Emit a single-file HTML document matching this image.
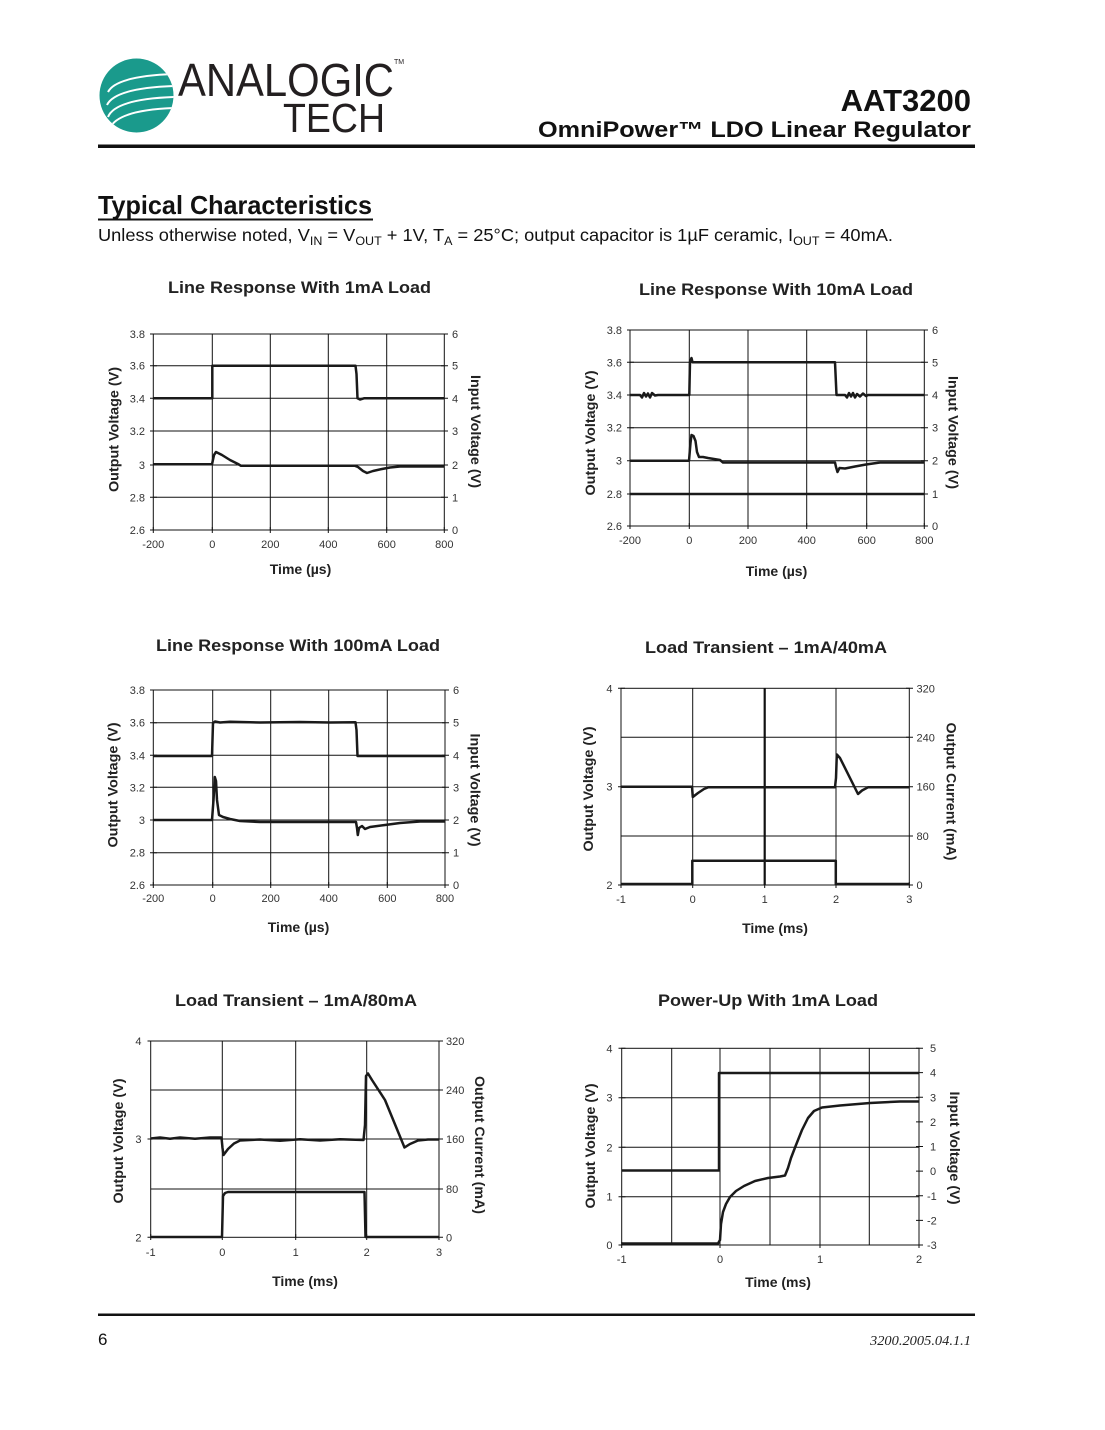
<!DOCTYPE html>
<html><head><meta charset="utf-8"><style>
html,body{margin:0;padding:0;background:#fff;}
svg{display:block;}
.t{font-family:"Liberation Sans",sans-serif;font-size:11px;fill:#333;}
.ax{font-family:"Liberation Sans",sans-serif;font-size:14px;font-weight:bold;fill:#222;}
.ti{font-family:"Liberation Sans",sans-serif;font-size:17px;font-weight:bold;fill:#222;}
.g{stroke:#111;stroke-width:1;fill:none;}
.s{stroke:#1a1a1a;stroke-width:2.5;fill:none;stroke-linejoin:round;}
</style></head><body>
<svg width="1105" height="1430" viewBox="0 0 1105 1430" xmlns="http://www.w3.org/2000/svg">
<rect width="1105" height="1430" fill="#fff"/>
<!-- Logo -->
<defs><clipPath id="lc"><circle cx="136.5" cy="95.5" r="37"/></clipPath></defs>
<circle cx="136.5" cy="95.5" r="37" fill="#1a9a8c"/>
<g clip-path="url(#lc)" stroke="#fff" stroke-width="2" fill="none">
<path d="M108,92 Q116,76 175,74"/>
<path d="M107,105 Q115,88 175,86"/>
<path d="M108,117 Q115,99 175,97"/>
<path d="M110,128 Q118,110 175,108"/>
</g>
<text x="178" y="96" font-family="Liberation Sans,sans-serif" font-size="46" fill="#231f20" textLength="216" lengthAdjust="spacingAndGlyphs">ANALOGIC</text>
<text x="394" y="64" font-family="Liberation Sans,sans-serif" font-size="7" fill="#231f20">TM</text>
<text x="283" y="132" font-family="Liberation Sans,sans-serif" font-size="41" fill="#231f20" textLength="102" lengthAdjust="spacingAndGlyphs">TECH</text>
<!-- Header -->
<text x="971" y="111" text-anchor="end" font-family="Liberation Sans,sans-serif" font-size="31" font-weight="bold" fill="#111">AAT3200</text>
<text x="971" y="137" text-anchor="end" font-family="Liberation Sans,sans-serif" font-size="22" font-weight="bold" fill="#111" textLength="433" lengthAdjust="spacingAndGlyphs">OmniPower™ LDO Linear Regulator</text>
<rect x="98" y="144.5" width="877" height="3.5" fill="#111"/>
<!-- Section title -->
<text x="98" y="214" font-family="Liberation Sans,sans-serif" font-size="26" font-weight="bold" fill="#111" textLength="274" lengthAdjust="spacingAndGlyphs">Typical Characteristics</text>
<rect x="98" y="218.5" width="275" height="2" fill="#111"/>
<text x="98" y="241" font-family="Liberation Sans,sans-serif" font-size="17.5" fill="#111" textLength="795" lengthAdjust="spacingAndGlyphs">Unless otherwise noted, V<tspan font-size="12" dy="4">IN</tspan><tspan dy="-4"> = V</tspan><tspan font-size="12" dy="4">OUT</tspan><tspan dy="-4"> + 1V, T</tspan><tspan font-size="12" dy="4">A</tspan><tspan dy="-4"> = 25°C; output capacitor is 1µF ceramic, I</tspan><tspan font-size="12" dy="4">OUT</tspan><tspan dy="-4"> = 40mA.</tspan></text>

<!-- ================= Chart 1 ================= -->
<text class="ti" x="299.5" y="293" text-anchor="middle" textLength="263" lengthAdjust="spacingAndGlyphs">Line Response With 1mA Load</text>
<g class="g">
<rect x="153.3" y="334" width="291" height="196"/>
<path d="M212.3,334V530M270.3,334V530M328.3,334V530M386.7,334V530"/>
<path d="M153.3,365.7H444.3M153.3,398.3H444.3M153.3,431H444.3M153.3,465H444.3M153.3,497.3H444.3"/>
<path d="M150,334h7M150,365.7h7M150,398.3h7M150,431h7M150,465h7M150,497.3h7M150,530h7"/>
<path d="M441,334h7M441,365.7h7M441,398.3h7M441,431h7M441,465h7M441,497.3h7M441,530h7"/>
<path d="M153.3,527v6M212.3,527v6M270.3,527v6M328.3,527v6M386.7,527v6M444.3,527v6"/>
</g>
<g class="t" text-anchor="end">
<text x="145" y="338">3.8</text><text x="145" y="369.7">3.6</text><text x="145" y="402.3">3.4</text><text x="145" y="435">3.2</text><text x="145" y="469">3</text><text x="145" y="501.3">2.8</text><text x="145" y="534">2.6</text>
</g>
<g class="t">
<text x="452" y="338">6</text><text x="452" y="369.7">5</text><text x="452" y="402.3">4</text><text x="452" y="435">3</text><text x="452" y="469">2</text><text x="452" y="501.3">1</text><text x="452" y="534">0</text>
</g>
<g class="t" text-anchor="middle">
<text x="153.3" y="548">-200</text><text x="212.3" y="548">0</text><text x="270.3" y="548">200</text><text x="328.3" y="548">400</text><text x="386.7" y="548">600</text><text x="444.3" y="548">800</text>
</g>
<text class="ax" x="300.5" y="574" text-anchor="middle">Time (µs)</text>
<text class="ax" transform="translate(118.5,429.5) rotate(-90)" text-anchor="middle" textLength="125" lengthAdjust="spacingAndGlyphs">Output Voltage (V)</text>
<text class="ax" transform="translate(471,431.5) rotate(90)" text-anchor="middle" textLength="113" lengthAdjust="spacingAndGlyphs">Input Voltage (V)</text>
<path class="s" d="M153.3,398.3H212.3V365.7H355.5L356.5,374L357.5,398.3L360,399.5L364,398.3H444.3"/>
<path class="s" d="M153.3,464.3H212L214,455L216,452L222,455L230,460L238,464L241,465.8H355L358,467L363,471L367,473L373,471L382,469L390,467.5L400,466.5H444.3"/>

<!-- ================= Chart 2 ================= -->
<text class="ti" x="776" y="295" text-anchor="middle" textLength="274" lengthAdjust="spacingAndGlyphs">Line Response With 10mA Load</text>
<g class="g">
<rect x="630" y="330" width="294.3" height="196"/>
<path d="M689.3,330V526M748,330V526M806.7,330V526M866.7,330V526"/>
<path d="M630,362.3H924.3M630,395H924.3M630,427.7H924.3M630,460.7H924.3"/>
<path d="M627,330h7M627,362.3h7M627,395h7M627,427.7h7M627,460.7h7M627,494h7M627,526h7"/>
<path d="M921,330h7M921,362.3h7M921,395h7M921,427.7h7M921,460.7h7M921,494h7M921,526h7"/>
<path d="M630,523v6M689.3,523v6M748,523v6M806.7,523v6M866.7,523v6M924.3,523v6"/>
</g>
<g class="t" text-anchor="end">
<text x="622" y="334">3.8</text><text x="622" y="366.3">3.6</text><text x="622" y="399">3.4</text><text x="622" y="431.7">3.2</text><text x="622" y="464.7">3</text><text x="622" y="498">2.8</text><text x="622" y="530">2.6</text>
</g>
<g class="t">
<text x="932" y="334">6</text><text x="932" y="366.3">5</text><text x="932" y="399">4</text><text x="932" y="431.7">3</text><text x="932" y="464.7">2</text><text x="932" y="498">1</text><text x="932" y="530">0</text>
</g>
<g class="t" text-anchor="middle">
<text x="630" y="544">-200</text><text x="689.3" y="544">0</text><text x="748" y="544">200</text><text x="806.7" y="544">400</text><text x="866.7" y="544">600</text><text x="924.3" y="544">800</text>
</g>
<text class="ax" x="776.5" y="576" text-anchor="middle">Time (µs)</text>
<text class="ax" transform="translate(595,433) rotate(-90)" text-anchor="middle" textLength="125" lengthAdjust="spacingAndGlyphs">Output Voltage (V)</text>
<text class="ax" transform="translate(948.5,432.5) rotate(90)" text-anchor="middle" textLength="113" lengthAdjust="spacingAndGlyphs">Input Voltage (V)</text>
<path class="s" d="M630,494H924.3"/>
<path class="s" d="M630,395H640L642,397.5L644,393L646,396.5L648,393.5L650,397.5L652,393L655,395.5L658,395H689.3L690,362L691.5,358L692.5,362.3H835L836.5,395H845L847,397.5L849,393L851,396.5L853,393L855,397.5L857,394L860,396.5L863,393.5L866,396L868,395H924.3"/>
<path class="s" d="M630,460.7H689L690.5,443L691.5,435L693.5,436L695.5,441L697,452L699,457L703,457L708,458L714,459L720,460L723,462.5H835L836,467L837.5,472L839.5,468L845,468.5L855,466.5L866,464.5L880,462.5H924.3"/>

<!-- ================= Chart 3 ================= -->
<text class="ti" x="298" y="651" text-anchor="middle" textLength="284" lengthAdjust="spacingAndGlyphs">Line Response With 100mA Load</text>
<g class="g">
<rect x="153.3" y="690" width="291.7" height="195"/>
<path d="M212.7,690V885M270.7,690V885M328.7,690V885M387.3,690V885"/>
<path d="M153.3,722.7H445M153.3,755.3H445M153.3,787.3H445M153.3,820H445M153.3,852.7H445"/>
<path d="M150,690h7M150,722.7h7M150,755.3h7M150,787.3h7M150,820h7M150,852.7h7M150,885h7"/>
<path d="M442,690h7M442,722.7h7M442,755.3h7M442,787.3h7M442,820h7M442,852.7h7M442,885h7"/>
<path d="M153.3,882v6M212.7,882v6M270.7,882v6M328.7,882v6M387.3,882v6M445,882v6"/>
</g>
<g class="t" text-anchor="end">
<text x="145" y="694">3.8</text><text x="145" y="726.7">3.6</text><text x="145" y="759.3">3.4</text><text x="145" y="791.3">3.2</text><text x="145" y="824">3</text><text x="145" y="856.7">2.8</text><text x="145" y="889">2.6</text>
</g>
<g class="t">
<text x="453" y="694">6</text><text x="453" y="726.7">5</text><text x="453" y="759.3">4</text><text x="453" y="791.3">3</text><text x="453" y="824">2</text><text x="453" y="856.7">1</text><text x="453" y="889">0</text>
</g>
<g class="t" text-anchor="middle">
<text x="153.3" y="902">-200</text><text x="212.7" y="902">0</text><text x="270.7" y="902">200</text><text x="328.7" y="902">400</text><text x="387.3" y="902">600</text><text x="445" y="902">800</text>
</g>
<text class="ax" x="298.5" y="932" text-anchor="middle">Time (µs)</text>
<text class="ax" transform="translate(117.5,785) rotate(-90)" text-anchor="middle" textLength="125" lengthAdjust="spacingAndGlyphs">Output Voltage (V)</text>
<text class="ax" transform="translate(470.5,790) rotate(90)" text-anchor="middle" textLength="113" lengthAdjust="spacingAndGlyphs">Input Voltage (V)</text>
<path class="s" d="M153.3,756H212L213,723L215,721.5L220,722.5L230,721.8L260,722.5L300,722L330,722.5L355.5,722.3L356.5,730L357.5,756H445"/>
<path class="s" d="M153.3,820H212L213.5,800L214.8,777L216,781L217,800L219,815L223,817L230,819L240,821L260,822H356L357,828L357.8,835L359,828L362,826L365,829L370,827L385,825L400,823L420,821.5H445"/>

<!-- ================= Chart 4 ================= -->
<text class="ti" x="766" y="653" text-anchor="middle" textLength="242" lengthAdjust="spacingAndGlyphs">Load Transient – 1mA/40mA</text>
<g class="g">
<rect x="621" y="688.3" width="288.3" height="196.7"/>
<path d="M692.7,688.3V885M836,688.3V885"/>
<path d="M621,737.3H909.3M621,786.7H909.3M621,836H909.3"/>
<path d="M618,688.3h7M618,786.7h7M618,885h7"/>
<path d="M906,688.3h7M906,737.3h7M906,786.7h7M906,836h7M906,885h7"/>
<path d="M621,882v6M692.7,882v6M764.7,882v6M836,882v6M909.3,882v6"/>
</g>
<path d="M764.7,688.3V885" stroke="#111" stroke-width="2.2"/>
<g class="t" text-anchor="end">
<text x="612.5" y="692.3">4</text><text x="612.5" y="790.7">3</text><text x="612.5" y="889">2</text>
</g>
<g class="t">
<text x="916.5" y="692.3">320</text><text x="916.5" y="741.3">240</text><text x="916.5" y="790.7">160</text><text x="916.5" y="840">80</text><text x="916.5" y="889">0</text>
</g>
<g class="t" text-anchor="middle">
<text x="621" y="903">-1</text><text x="692.7" y="903">0</text><text x="764.7" y="903">1</text><text x="836" y="903">2</text><text x="909.3" y="903">3</text>
</g>
<text class="ax" x="775" y="933" text-anchor="middle">Time (ms)</text>
<text class="ax" transform="translate(593,789) rotate(-90)" text-anchor="middle" textLength="125" lengthAdjust="spacingAndGlyphs">Output Voltage (V)</text>
<text class="ax" transform="translate(946.5,791.5) rotate(90)" text-anchor="middle" textLength="138" lengthAdjust="spacingAndGlyphs">Output Current (mA)</text>
<path class="s" d="M621,884H692.3V860.7H835.8V884H909.3"/>
<path class="s" d="M621,786.7H692L692.8,797L698,793L704,789L708,787.3H835L836,778L836.8,754.5L840,758L858,794L862,790.5L868,787.3H909.3"/>

<!-- ================= Chart 5 ================= -->
<text class="ti" x="296" y="1006" text-anchor="middle" textLength="242" lengthAdjust="spacingAndGlyphs">Load Transient – 1mA/80mA</text>
<g class="g">
<rect x="150.7" y="1041" width="288.3" height="196.3"/>
<path d="M222.3,1041V1237.3M295.7,1041V1237.3M366.7,1041V1237.3"/>
<path d="M150.7,1090H439M150.7,1139H439M150.7,1189H439"/>
<path d="M147.5,1041h7M147.5,1139h7M147.5,1237.3h7"/>
<path d="M436,1041h7M436,1090h7M436,1139h7M436,1189h7M436,1237.3h7"/>
<path d="M150.7,1234v6M222.3,1234v6M295.7,1234v6M366.7,1234v6M439,1234v6"/>
</g>
<g class="t" text-anchor="end">
<text x="141.5" y="1045">4</text><text x="141.5" y="1143">3</text><text x="141.5" y="1241.3">2</text>
</g>
<g class="t">
<text x="446" y="1045">320</text><text x="446" y="1094">240</text><text x="446" y="1143">160</text><text x="446" y="1193">80</text><text x="446" y="1241.3">0</text>
</g>
<g class="t" text-anchor="middle">
<text x="150.7" y="1256">-1</text><text x="222.3" y="1256">0</text><text x="295.7" y="1256">1</text><text x="366.7" y="1256">2</text><text x="439" y="1256">3</text>
</g>
<text class="ax" x="305" y="1286" text-anchor="middle">Time (ms)</text>
<text class="ax" transform="translate(123,1141) rotate(-90)" text-anchor="middle" textLength="125" lengthAdjust="spacingAndGlyphs">Output Voltage (V)</text>
<text class="ax" transform="translate(475,1145) rotate(90)" text-anchor="middle" textLength="138" lengthAdjust="spacingAndGlyphs">Output Current (mA)</text>
<path class="s" d="M150.7,1237H222L223,1196L225,1193L228,1192H364.5L365.5,1237H439"/>
<path class="s" d="M150.7,1138.5L160,1137.5L170,1138.8L180,1137.5L195,1138.8L210,1137.5H221.5L222.5,1148L223.5,1155L228,1149L234,1143.5L240,1140.5L260,1139.5L280,1140.8L300,1139.2L320,1140.5L340,1139.3L363.5,1140L365,1125L366,1076L368,1073.5L372,1080L385,1100L404.5,1147.5L410,1144L418,1140.5L428,1139.5H439"/>

<!-- ================= Chart 6 ================= -->
<text class="ti" x="768" y="1006" text-anchor="middle" textLength="220" lengthAdjust="spacingAndGlyphs">Power-Up With 1mA Load</text>
<g class="g">
<rect x="621.7" y="1048.3" width="297.3" height="196.7"/>
<path d="M671.7,1048.3V1245M720,1048.3V1245M770,1048.3V1245M820,1048.3V1245M869.3,1048.3V1245"/>
<path d="M621.7,1097.7H919M621.7,1147.3H919M621.7,1196.7H919"/>
<path d="M618.5,1048.3h7M618.5,1097.7h7M618.5,1147.3h7M618.5,1196.7h7M618.5,1245h7"/>
<path d="M916,1048.3h7M916,1072.6h7M916,1097.3h7M916,1121.9h7M916,1146.5h7M916,1171.1h7M916,1195.8h7M916,1220.4h7M916,1245h7"/>
<path d="M621.7,1242v6M720,1242v6M820,1242v6M919,1242v6"/>
</g>
<g class="t" text-anchor="end">
<text x="612.5" y="1052.3">4</text><text x="612.5" y="1101.7">3</text><text x="612.5" y="1151.3">2</text><text x="612.5" y="1200.7">1</text><text x="612.5" y="1249">0</text>
</g>
<g class="t">
<text x="930" y="1052">5</text><text x="930" y="1076.6">4</text><text x="930" y="1101.3">3</text><text x="930" y="1125.9">2</text><text x="930" y="1150.5">1</text><text x="930" y="1175.1">0</text><text x="927" y="1199.8">-1</text><text x="927" y="1224.4">-2</text><text x="927" y="1249">-3</text>
</g>
<g class="t" text-anchor="middle">
<text x="621.7" y="1263">-1</text><text x="720" y="1263">0</text><text x="820" y="1263">1</text><text x="919" y="1263">2</text>
</g>
<text class="ax" x="778" y="1287" text-anchor="middle">Time (ms)</text>
<text class="ax" transform="translate(595,1146) rotate(-90)" text-anchor="middle" textLength="125" lengthAdjust="spacingAndGlyphs">Output Voltage (V)</text>
<text class="ax" transform="translate(950,1148) rotate(90)" text-anchor="middle" textLength="113" lengthAdjust="spacingAndGlyphs">Input Voltage (V)</text>
<path class="s" d="M621.7,1170.5H719V1073H919"/>
<path class="s" d="M621.7,1243.5H718L720,1240L721,1224L723,1212L726,1204L730,1197L736,1191L744,1186L755,1181L768,1178L780,1176.5L785,1175.5L788,1168L791,1158L796,1145L802,1130L808,1118L814,1111L822,1107.5L840,1105.5L870,1103L900,1101.5H919"/>

<!-- Footer -->
<rect x="98" y="1313.5" width="877" height="2.5" fill="#111"/>
<text x="98" y="1345" font-family="Liberation Sans,sans-serif" font-size="17" fill="#111">6</text>
<text x="971" y="1345" text-anchor="end" font-family="Liberation Serif,serif" font-size="14" font-style="italic" fill="#222" textLength="101" lengthAdjust="spacingAndGlyphs">3200.2005.04.1.1</text>
</svg>
</body></html>
